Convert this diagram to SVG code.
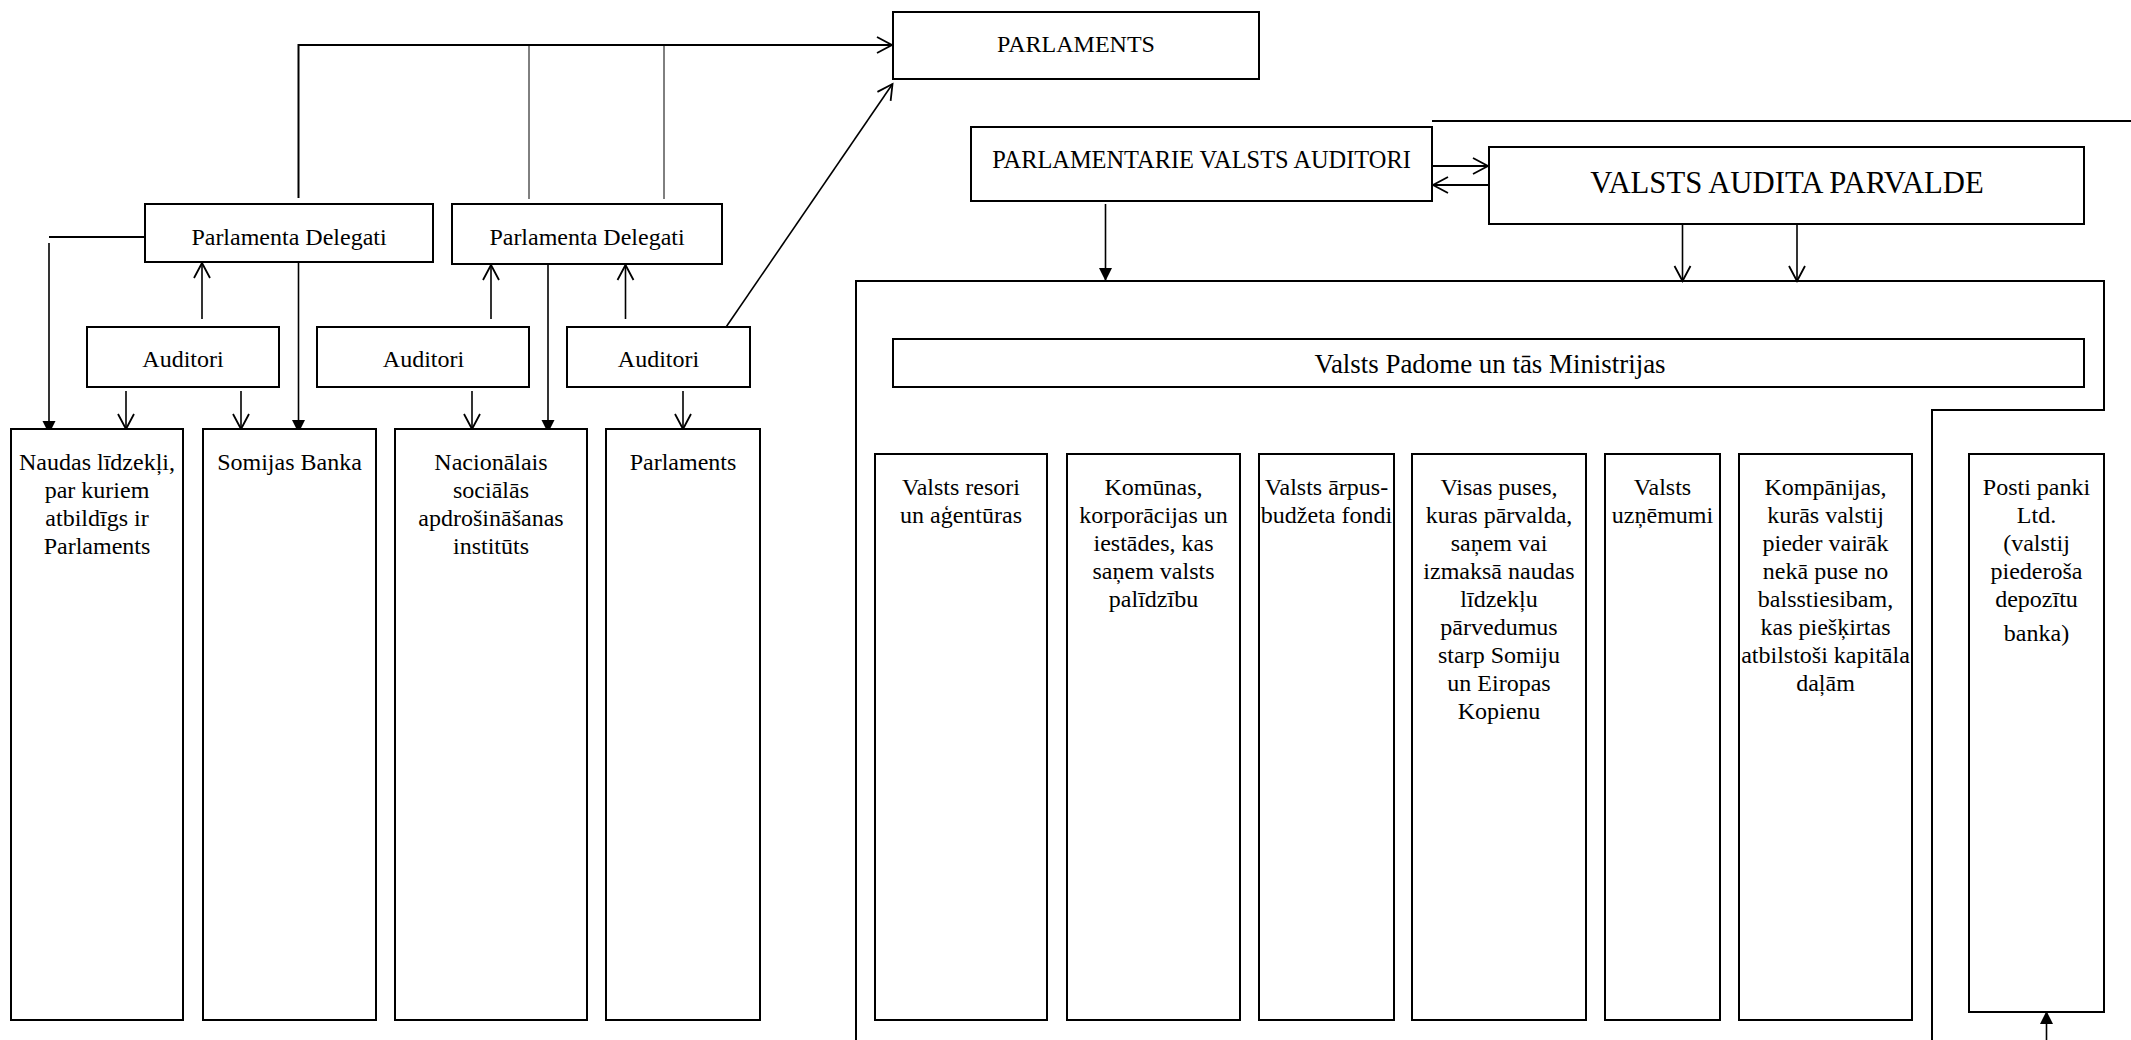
<svg xmlns="http://www.w3.org/2000/svg" width="2131" height="1040" viewBox="0 0 2131 1040">
<style>
.box{fill:#fff;stroke:#000;stroke-width:2}
.t{font-family:"Liberation Serif","Times New Roman",serif;font-size:24px;fill:#000;text-anchor:middle}
.big{font-size:30.7px}
.mid{font-size:26.9px}
.c{fill:none;stroke:#000;stroke-width:1.6}
.c2{fill:none;stroke:#000;stroke-width:2}
.thin{fill:none;stroke:#000;stroke-width:1}
</style>
<defs>
<marker id="open" markerUnits="userSpaceOnUse" markerWidth="20" markerHeight="20" viewBox="-17 -10 19 20" refX="0" refY="0" orient="auto">
<path d="M-15,-8 L0,0 L-15,8" fill="none" stroke="#000" stroke-width="1.8"/>
</marker>
<marker id="fill" markerUnits="userSpaceOnUse" markerWidth="16" markerHeight="16" viewBox="-14 -8 15 16" refX="0" refY="0" orient="auto">
<path d="M-13,-6.5 L0,0 L-13,6.5 Z" fill="#000"/>
</marker>
</defs>

<g id="connectors">
<path class="c2" d="M298.5,198 V45 H892" marker-end="url(#open)"/>
<line class="thin" x1="529" y1="45" x2="529" y2="199"/>
<line class="thin" x1="664" y1="45" x2="664" y2="199"/>
<line class="c" x1="722" y1="333" x2="892.5" y2="84" marker-end="url(#open)"/>
<line class="c2" x1="49" y1="237" x2="145" y2="237"/>
<line class="c" x1="49" y1="243" x2="49" y2="434" marker-end="url(#fill)"/>
<line class="c" x1="298.5" y1="262" x2="298.5" y2="433" marker-end="url(#fill)"/>
<line class="c" x1="548" y1="264" x2="548" y2="433" marker-end="url(#fill)"/>
<line class="c" x1="202" y1="319" x2="202" y2="263" marker-end="url(#open)"/>
<line class="c" x1="491" y1="319" x2="491" y2="265" marker-end="url(#open)"/>
<line class="c" x1="625.5" y1="319" x2="625.5" y2="265" marker-end="url(#open)"/>
<line class="c" x1="126" y1="391" x2="126" y2="429" marker-end="url(#open)"/>
<line class="c" x1="241" y1="391" x2="241" y2="429" marker-end="url(#open)"/>
<line class="c" x1="472" y1="391" x2="472" y2="429" marker-end="url(#open)"/>
<line class="c" x1="683" y1="391" x2="683" y2="429" marker-end="url(#open)"/>
<line class="c2" x1="1432" y1="121" x2="2131" y2="121"/>
<line class="c2" x1="1433" y1="166" x2="1488" y2="166" marker-end="url(#open)"/>
<line class="c2" x1="1488" y1="185" x2="1433" y2="185" marker-end="url(#open)"/>
<line class="c" x1="1105.5" y1="204" x2="1105.5" y2="281" marker-end="url(#fill)"/>
<line class="c" x1="1682.5" y1="224" x2="1682.5" y2="281" marker-end="url(#open)"/>
<line class="c" x1="1797" y1="224" x2="1797" y2="281" marker-end="url(#open)"/>
<path class="c2" d="M856,1040 V281 H2104 V410 H1932 V1040"/>
<line class="c" x1="2046.5" y1="1040" x2="2046.5" y2="1011" marker-end="url(#fill)"/>
</g>

<g id="parlaments">
<rect class="box" x="893" y="12" width="366" height="67"/>
<text class="t" x="1076" y="52">PARLAMENTS</text>
</g>
<g id="delegati1">
<rect class="box" x="145" y="204" width="288" height="58"/>
<text class="t" x="289" y="245">Parlamenta Delegati</text>
</g>
<g id="delegati2">
<rect class="box" x="452" y="204" width="270" height="60"/>
<text class="t" x="587" y="245">Parlamenta Delegati</text>
</g>
<g id="auditori1">
<rect class="box" x="87" y="327" width="192" height="60"/>
<text class="t" x="183" y="367">Auditori</text>
</g>
<g id="auditori2">
<rect class="box" x="317" y="327" width="212" height="60"/>
<text class="t" x="423.5" y="367">Auditori</text>
</g>
<g id="auditori3">
<rect class="box" x="567" y="327" width="183" height="60"/>
<text class="t" x="658.5" y="367">Auditori</text>
</g>

<g id="naudas">
<rect class="box" x="11" y="429" width="172" height="591"/>
<text class="t" x="97"><tspan x="97" y="470">Naudas līdzekļi,</tspan><tspan x="97" y="498">par kuriem</tspan><tspan x="97" y="526">atbildīgs ir</tspan><tspan x="97" y="554">Parlaments</tspan></text>
</g>
<g id="somijas-banka">
<rect class="box" x="203" y="429" width="173" height="591"/>
<text class="t" x="289.5" y="470">Somijas Banka</text>
</g>
<g id="nacionalais">
<rect class="box" x="395" y="429" width="192" height="591"/>
<text class="t"><tspan x="491" y="470">Nacionālais</tspan><tspan x="491" y="498">sociālās</tspan><tspan x="491" y="526">apdrošināšanas</tspan><tspan x="491" y="554">institūts</tspan></text>
</g>
<g id="parlaments-box">
<rect class="box" x="606" y="429" width="154" height="591"/>
<text class="t" x="683" y="470">Parlaments</text>
</g>

<g id="pva">
<rect class="box" x="971" y="127" width="461" height="74"/>
<text class="t" x="1201.5" y="168" style="font-size:24.4px">PARLAMENTARIE VALSTS AUDITORI</text>
</g>
<g id="vap">
<rect class="box" x="1489" y="147" width="595" height="77"/>
<text class="t big" x="1787" y="193">VALSTS AUDITA PARVALDE</text>
</g>
<g id="padome">
<rect class="box" x="893" y="339" width="1191" height="48"/>
<text class="t mid" x="1490" y="373">Valsts Padome un tās Ministrijas</text>
</g>

<g id="resori">
<rect class="box" x="875" y="454" width="172" height="566"/>
<text class="t"><tspan x="961" y="495">Valsts resori</tspan><tspan x="961" y="523">un aģentūras</tspan></text>
</g>
<g id="komunas">
<rect class="box" x="1067" y="454" width="173" height="566"/>
<text class="t"><tspan x="1153.5" y="495">Komūnas,</tspan><tspan x="1153.5" y="523">korporācijas un</tspan><tspan x="1153.5" y="551">iestādes, kas</tspan><tspan x="1153.5" y="579">saņem valsts</tspan><tspan x="1153.5" y="607">palīdzību</tspan></text>
</g>
<g id="fondi">
<rect class="box" x="1259" y="454" width="135" height="566"/>
<text class="t"><tspan x="1326.5" y="495">Valsts ārpus-</tspan><tspan x="1326.5" y="523">budžeta fondi</tspan></text>
</g>
<g id="puses">
<rect class="box" x="1412" y="454" width="174" height="566"/>
<text class="t"><tspan x="1499" y="495">Visas puses,</tspan><tspan x="1499" y="523">kuras pārvalda,</tspan><tspan x="1499" y="551">saņem vai</tspan><tspan x="1499" y="579">izmaksā naudas</tspan><tspan x="1499" y="607">līdzekļu</tspan><tspan x="1499" y="635">pārvedumus</tspan><tspan x="1499" y="663">starp Somiju</tspan><tspan x="1499" y="691">un Eiropas</tspan><tspan x="1499" y="719">Kopienu</tspan></text>
</g>
<g id="uznemumi">
<rect class="box" x="1605" y="454" width="115" height="566"/>
<text class="t"><tspan x="1662.5" y="495">Valsts</tspan><tspan x="1662.5" y="523">uzņēmumi</tspan></text>
</g>
<g id="kompanijas">
<rect class="box" x="1739" y="454" width="173" height="566"/>
<text class="t"><tspan x="1825.5" y="495">Kompānijas,</tspan><tspan x="1825.5" y="523">kurās valstij</tspan><tspan x="1825.5" y="551">pieder vairāk</tspan><tspan x="1825.5" y="579">nekā puse no</tspan><tspan x="1825.5" y="607">balsstiesibam,</tspan><tspan x="1825.5" y="635">kas piešķirtas</tspan><tspan x="1825.5" y="663">atbilstoši kapitāla</tspan><tspan x="1825.5" y="691">daļām</tspan></text>
</g>
<g id="posti">
<rect class="box" x="1969" y="454" width="135" height="558"/>
<text class="t"><tspan x="2036.5" y="495">Posti panki</tspan><tspan x="2036.5" y="523">Ltd.</tspan><tspan x="2036.5" y="551">(valstij</tspan><tspan x="2036.5" y="579">piederoša</tspan><tspan x="2036.5" y="607">depozītu</tspan><tspan x="2036.5" y="641">banka)</tspan></text>
</g>
</svg>
